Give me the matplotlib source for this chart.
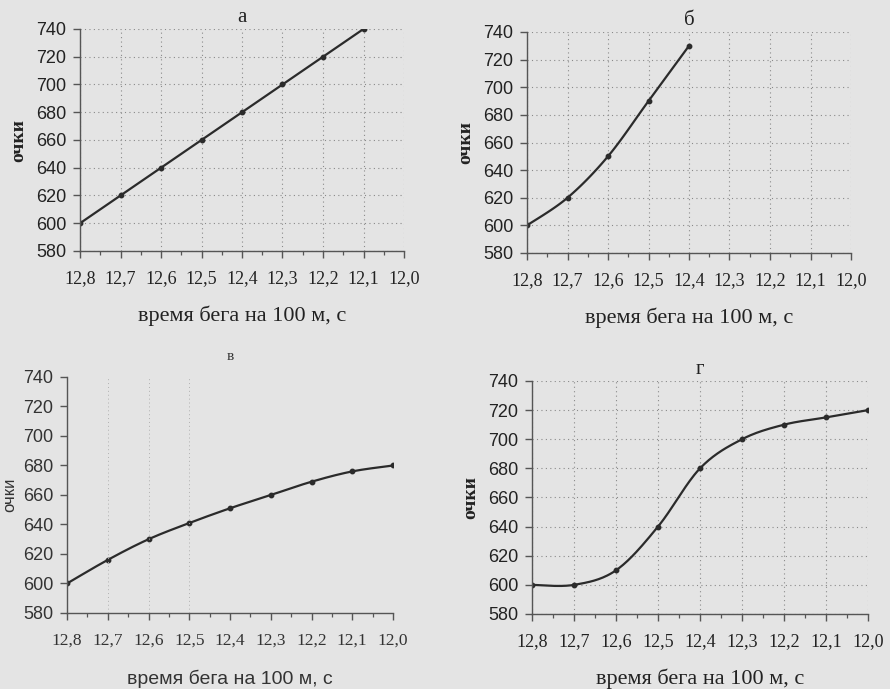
import numpy as np
import matplotlib
matplotlib.use('Agg')
import matplotlib.pyplot as plt
from matplotlib.ticker import MultipleLocator

# время бега на 100 м (с) и очки для четырёх вариантов шкалы
time_a = [12.8, 12.7, 12.6, 12.5, 12.4, 12.3, 12.2, 12.1]
points_a = [600, 620, 640, 660, 680, 700, 720, 740]

time_b = [12.8, 12.7, 12.6, 12.5, 12.4]
points_b = [600, 620, 650, 690, 730]

time_v = [12.8, 12.7, 12.6, 12.5, 12.4, 12.3, 12.2, 12.1, 12.0]
points_v = [600, 616, 630, 641, 651, 660, 669, 676, 680]

time_g = [12.8, 12.7, 12.6, 12.5, 12.4, 12.3, 12.2, 12.1, 12.0]
points_g = [600, 600, 610, 640, 680, 700, 710, 715, 720]

x_ticks = [12.8, 12.7, 12.6, 12.5, 12.4, 12.3, 12.2, 12.1, 12.0]
x_labels = ['12,8', '12,7', '12,6', '12,5', '12,4', '12,3', '12,2', '12,1', '12,0']
y_ticks = [580, 600, 620, 640, 660, 680, 700, 720, 740]

BG = '#e4e4e4'
INK = '#2b2b2b'
W, H = 890, 689


def smooth(xs, ys, n=30):
    # сглаженная линия через точки (Catmull-Rom), как "сглаживание" в Excel
    p = np.column_stack([xs, ys]).astype(float)
    p = np.vstack([p[0], p, p[-1]])
    out = []
    t = np.linspace(0, 1, n)[:, None]
    for i in range(1, len(p) - 2):
        p0, p1, p2, p3 = p[i - 1], p[i], p[i + 1], p[i + 2]
        seg = 0.5 * ((2 * p1) + (-p0 + p2) * t +
                     (2 * p0 - 5 * p1 + 4 * p2 - p3) * t ** 2 +
                     (-p0 + 3 * p1 - 3 * p2 + p3) * t ** 3)
        out.append(seg)
    c = np.vstack(out)
    return c[:, 0], c[:, 1]


def make_axes(fig, left, right, top, bottom):
    return fig.add_axes([left / W, 1 - bottom / H, (right - left) / W, (bottom - top) / H])


def draw_panel(ax, xs, ys, title, style='normal'):
    ax.set_facecolor('none')
    sx, sy = smooth(xs, ys)
    ax.plot(sx, sy, color=INK, lw=1.6, solid_capstyle='round')
    ax.plot(xs, ys, 'o', color=INK, ms=3.2)

    ax.set_xlim(12.8, 12.0)
    ax.set_ylim(580, 740)
    ax.set_xticks(x_ticks)
    ax.set_xticklabels(x_labels)
    ax.set_yticks(y_ticks)
    ax.xaxis.set_minor_locator(MultipleLocator(0.05))

    for s in ['top', 'right']:
        ax.spines[s].set_visible(False)
    for s in ['left', 'bottom']:
        ax.spines[s].set_color('#555555')
        ax.spines[s].set_linewidth(1.0)

    ax.tick_params(axis='x', which='major', direction='out', length=5,
                   width=1.0, color='#555555', pad=9)
    ax.tick_params(axis='x', which='minor', direction='out', length=3,
                   width=0.9, color='#555555')
    ax.tick_params(axis='y', direction='out', length=5, width=1.0,
                   color='#555555', pad=5)

    if style == 'faded':
        # нижний левый график: светлее, сетка только вертикальная
        for v in [12.7, 12.6, 12.5]:
            ax.axvline(v, color='#b0b0b0', lw=0.7, ls=(0, (1, 3)))
        for lb in ax.get_xticklabels():
            lb.set(family='Liberation Serif', size=12.5, color='#333333')
        for lb in ax.get_yticklabels():
            lb.set(family='Liberation Sans', size=13, color='#333333')
        ax.set_xlabel('время бега на 100 м, с', family='Liberation Sans',
                      size=14, color='#333333', labelpad=15)
        ax.set_ylabel('очки', family='Liberation Sans', size=12,
                      color='#333333', labelpad=4)
        ax.set_title(title, family='Liberation Serif', size=11,
                     color='#333333', pad=12)
    else:
        ax.grid(True, which='major', color='#8a8a8a', lw=0.8, ls=(0, (1, 3)))
        for lb in ax.get_xticklabels():
            lb.set(family='Liberation Serif', size=13, color='#222222')
        for lb in ax.get_yticklabels():
            lb.set(family='Liberation Sans', size=13, color='#222222')
        ax.set_xlabel('время бега на 100 м, с', family='Liberation Serif',
                      size=16, color='#222222', labelpad=13)
        ax.set_ylabel('очки', family='Liberation Serif', size=14,
                      weight='bold', color='#222222', labelpad=6)
        ax.set_title(title, family='Liberation Serif', size=15,
                     color='#222222', pad=5)
    ax.set_axisbelow(True)


fig = plt.figure(figsize=(W / 100, H / 100), dpi=100, facecolor=BG)

ax1 = make_axes(fig, 80, 404, 29, 251)
draw_panel(ax1, time_a, points_a, 'а')

ax2 = make_axes(fig, 527, 851, 32, 253)
draw_panel(ax2, time_b, points_b, 'б')

ax3 = make_axes(fig, 67, 393, 377, 613)
draw_panel(ax3, time_v, points_v, 'в', style='faded')

ax4 = make_axes(fig, 532, 868, 381, 614)
draw_panel(ax4, time_g, points_g, 'г')

fig.savefig('out.png', dpi=100, facecolor=BG)
